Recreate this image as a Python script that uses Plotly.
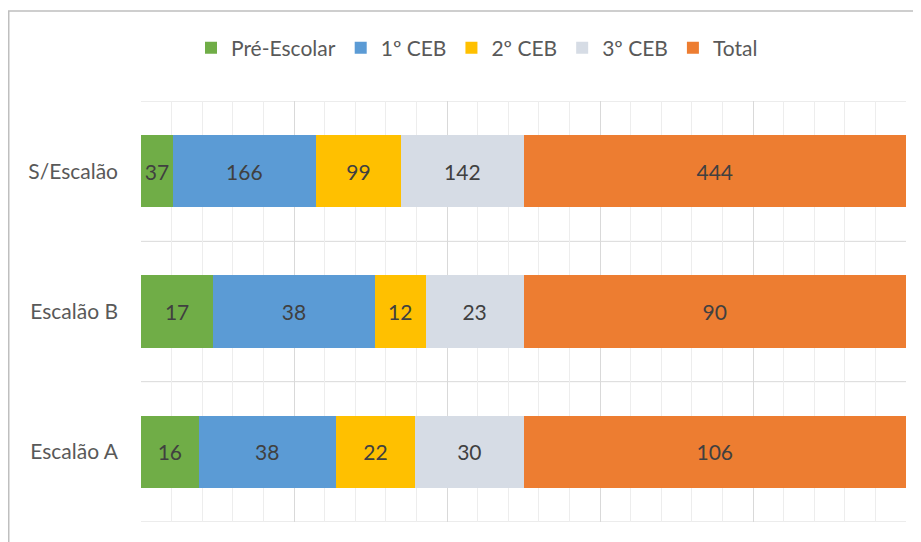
import plotly.graph_objects as go

categories = ["Escalão A", "Escalão B", "S/Escalão"]
series_names = ["Pré-Escolar", "1º CEB", "2º CEB", "3º CEB", "Total"]
pre_escolar = [16, 17, 37]
ceb1 = [38, 38, 166]
ceb2 = [22, 12, 99]
ceb3 = [30, 23, 142]
total = [106, 90, 444]
colors = ["#70AD47", "#5B9BD5", "#FFC000", "#D6DCE5", "#ED7D31"]

FONT = "Lato"
FS = 21
fig = go.Figure()
for name, vals, col in zip(series_names, [pre_escolar, ceb1, ceb2, ceb3, total], colors):
    fig.add_trace(go.Bar(
        y=categories, x=vals, name=name, orientation="h",
        marker=dict(color=col, line=dict(width=0)),
        text=[str(v) for v in vals], textposition="inside",
        insidetextanchor="middle", textangle=0, constraintext="none",
        textfont=dict(family=FONT, size=FS, color="#404040"),
        cliponaxis=False, hoverinfo="skip",
    ))

OFF = 8  # page body margin
W, H = 921 - OFF, 542 - OFF
L, R, T, B = 141 - OFF, 15, 101 - OFF, 20
pw, ph = W - L - R, H - T - B

shapes = []
for yv in [-0.5, 0.5, 1.5, 2.5]:
    shapes.append(dict(type="line", xref="paper", yref="y", x0=0, x1=1, y0=yv, y1=yv,
                       line=dict(color="#d9d9d9", width=1), layer="below"))
# outer chart border (left at page x=8, top at page y=11)
shapes.append(dict(type="rect", xref="paper", yref="paper",
                   x0=(0.75 - L) / pw, x1=(W + 20 - L) / pw,
                   y0=-(B + 20) / ph, y1=(H - B - 3) / ph,
                   line=dict(color="#bfbfbf", width=1.5), fillcolor="rgba(0,0,0,0)", layer="below"))

legend_center_page_x = 477
fig.update_layout(
    width=W, height=H,
    margin=dict(l=L, r=R, t=T, b=B),
    barmode="stack", barnorm="percent", bargap=0.486,
    plot_bgcolor="white", paper_bgcolor="white",
    font=dict(family=FONT, size=FS, color="#595959"),
    uniformtext=dict(minsize=FS, mode="show"),
    showlegend=True,
    legend=dict(orientation="h", x=(legend_center_page_x - 141) / pw, xanchor="center",
                y=(H - B - (48 - OFF)) / ph, yanchor="middle",
                font=dict(family=FONT, size=FS, color="#595959"), traceorder="normal",
                itemwidth=30, bgcolor="rgba(0,0,0,0)"),
    xaxis=dict(range=[0, 100], dtick=20, showticklabels=False, showgrid=True,
               gridcolor="#d9d9d9", gridwidth=1, zeroline=False, showline=False,
               minor=dict(dtick=4, showgrid=True, gridcolor="#ededed", gridwidth=1), fixedrange=True),
    yaxis=dict(categoryorder="array", categoryarray=categories, showgrid=False,
               zeroline=False, showline=False, ticks="", ticklabelstandoff=22,
               tickfont=dict(family=FONT, size=FS, color="#595959"), range=[-0.5, 2.5]),
    shapes=shapes,
)
fig.write_html("out.html")
